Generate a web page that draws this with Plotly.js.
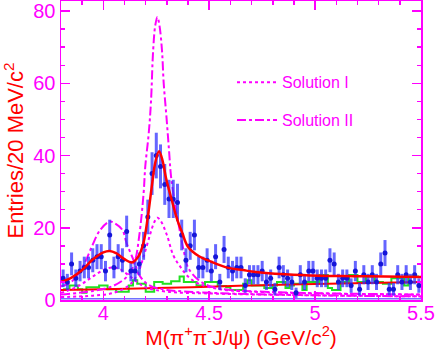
<!DOCTYPE html>
<html>
<head>
<meta charset="utf-8">
<script src="https://cdn.plot.ly/plotly-3.0.1.min.js"></script>
<style>
  body { margin: 0; background: #fff; }
  #plot { width: 436px; height: 349px; }
</style>
</head>
<body>
<div id="plot"></div>
<script>
// events per 20 MeV bin, first bin centred at 3.81 GeV
var counts = [6, 5, 10, 6, 8, 9, 9, 11, 12, 12, 8, 18, 9, 12, 11, 19, 8, 8, 10, 15, 23,
  35, 40, 37, 32, 28, 28, 27, 18,
  11, 15, 18, 9, 9, 11, 8, 12, 5, 14, 9, 8, 9, 9,
  4, 7, 7, 7, 8, 5, 6, 3, 9, 7, 6, 5, 2, 7, 5, 8, 8, 6, 6, 6, 11, 10, 5, 6, 6, 4, 8, 3,
  7, 5, 7, 5, 10, 13, 3, 3, 7, 5, 7, 5, 7, 4];

// sideband background histogram (same binning)
var sideband = [3, 3, 4, 4, 3, 2, 3.5, 3.5, 3.5, 4, 4, 3, 3, 2.3, 2.3, 2.3, 4, 5.5, 4.5, 4.5,
  2.3, 2.3, 5, 5, 4.5, 4.5, 5.2, 5.2, 6.5, 5, 5, 5, 4, 4, 5, 5, 5,
  3.9, 3.9, 3.5, 2.8, 2.8, 2.8, 4.5, 5.5, 4, 4, 4, 3.3, 3.3, 4, 5, 5, 3.3, 4, 4.5, 4.5,
  2.8, 5, 5, 5, 6.9, 6.9, 3.3, 2.8, 2.8, 5, 5, 6.9, 6.9, 5, 5, 6.5, 6.5, 5, 5, 4.5, 4.5,
  6, 6, 6, 4, 6.5, 6.5, 6.5];

// total fit
var fitX = [3.80, 3.85, 3.90, 3.95, 4.00, 4.03, 4.06, 4.10, 4.135, 4.165, 4.19, 4.21, 4.23,
  4.245, 4.263, 4.28, 4.295, 4.31, 4.323, 4.34, 4.355, 4.37, 4.40, 4.45, 4.51, 4.59, 4.66,
  4.70, 4.86, 5.02, 5.18, 5.33, 5.50];
var fitY = [5.0, 6.2, 8.3, 11.2, 13.2, 13.6, 13.0, 11.3, 10.4, 12.0, 16.0, 23.0, 32.0,
  38.0, 41.2, 38.5, 34.0, 30.5, 27.7, 24.0, 21.2, 19.0, 14.7, 12.2, 10.6, 8.9, 8.3,
  7.9, 7.1, 6.7, 6.6, 6.5, 6.4];

// fitted background
var bkgX = [3.80, 4.00, 4.25, 4.50, 4.75, 5.00, 5.25, 5.50];
var bkgY = [2.8, 3.0, 3.3, 3.7, 4.1, 4.4, 4.7, 5.0];

// Solution I components
var solIaX = [3.80, 3.85, 3.90, 3.95, 4.00, 4.04, 4.08, 4.12, 4.16, 4.20, 4.30, 4.50, 5.00, 5.50];
var solIaY = [2.0, 3.0, 4.5, 6.5, 8.3, 9.0, 8.5, 6.8, 5.0, 3.5, 2.3, 1.8, 1.3, 1.0];
var solIbX = [3.80, 3.95, 4.05, 4.12, 4.16, 4.19, 4.22, 4.24, 4.255, 4.27, 4.30, 4.33, 4.36,
  4.40, 4.45, 4.55, 4.70, 5.00, 5.50];
var solIbY = [0.8, 1.2, 2.0, 4.0, 7.0, 12.0, 18.0, 21.5, 22.8, 22.0, 18.0, 12.4, 9.5,
  6.5, 4.5, 3.0, 2.3, 1.8, 1.5];

// Solution II components
var solIIaX = [3.80, 3.84, 3.87, 3.91, 3.945, 3.985, 4.03, 4.06, 4.09, 4.11, 4.143, 4.175,
  4.22, 4.30, 4.40, 4.60, 5.00, 5.50];
var solIIaY = [3.8, 4.6, 6.4, 10.0, 14.7, 19.4, 21.7, 21.0, 19.4, 15.7, 11.0, 6.4,
  4.0, 2.8, 2.3, 1.8, 1.3, 1.0];
var solIIbX = [3.80, 3.95, 4.05, 4.12, 4.15, 4.17, 4.19, 4.198, 4.214, 4.225, 4.235, 4.245,
  4.255, 4.265, 4.277, 4.285, 4.298, 4.31, 4.32, 4.34, 4.355, 4.38, 4.40, 4.45, 4.51,
  4.60, 4.80, 5.10, 5.50];
var solIIbY = [1.5, 2.5, 4.0, 7.0, 11.0, 18.0, 29.5, 37.0, 46.0, 55.0, 69.0, 76.0,
  78.4, 76.0, 69.0, 60.0, 50.7, 41.5, 34.0, 26.0, 21.0, 13.5, 9.0, 5.5, 3.7,
  2.8, 2.2, 1.8, 1.5];

// interference term near zero
var intfX = [3.80, 5.50];
var intfY = [0.35, 0.35];

var magenta = '#ff00ff';

var traces = [
  {x: intfX, y: intfY, mode: 'lines', line: {color: '#7070ff', width: 1.5}, showlegend: false},
  {x0: 3.81, dx: 0.02, y: sideband, mode: 'lines', line: {color: '#22e022', width: 2, shape: 'hvh'},
    showlegend: false},
  {x: bkgX, y: bkgY, mode: 'lines', line: {color: '#ff0000', width: 2, shape: 'spline'}, showlegend: false},
  {x: solIaX, y: solIaY, mode: 'lines', legendgroup: 'I', showlegend: false,
    line: {color: magenta, width: 2, dash: 'dot', shape: 'spline'}},
  {x: solIIaX, y: solIIaY, mode: 'lines', legendgroup: 'II', showlegend: false,
    line: {color: magenta, width: 2, dash: 'dashdot', shape: 'spline'}},
  {x: solIbX, y: solIbY, mode: 'lines', name: 'Solution I', legendgroup: 'I',
    line: {color: magenta, width: 2, dash: 'dot', shape: 'spline'}},
  {x: solIIbX, y: solIIbY, mode: 'lines', name: 'Solution II', legendgroup: 'II',
    line: {color: magenta, width: 2, dash: 'dashdot', shape: 'spline'}},
  {x0: 3.81, dx: 0.02, y: counts, mode: 'markers', showlegend: false,
    marker: {color: '#1515d8', size: 5},
    error_y: {type: 'sqrt', color: 'rgba(50,50,255,0.75)', thickness: 3, width: 0}},
  {x: fitX, y: fitY, mode: 'lines', line: {color: '#ff0000', width: 2.5, shape: 'spline'}, showlegend: false}
];

var layout = {
  width: 436,
  height: 349,
  margin: {l: 61, r: 15, t: 1, b: 49},
  paper_bgcolor: '#ffffff',
  plot_bgcolor: '#ffffff',
  font: {family: 'Liberation Sans, Arial, sans-serif', color: magenta},
  showlegend: true,
  legend: {
    x: 0.475, y: 0.785, xanchor: 'left', yanchor: 'top',
    bgcolor: 'rgba(0,0,0,0)',
    font: {size: 16, color: magenta},
    traceorder: 'grouped',
    tracegroupgap: 14,
    itemwidth: 40
  },
  xaxis: {
    range: [3.8, 5.5],
    dtick: 0.5, tick0: 4,
    showgrid: false, zeroline: false,
    showline: true, linecolor: magenta, linewidth: 1.5, mirror: 'allticks',
    ticks: 'inside', ticklen: 9, tickcolor: magenta, tickwidth: 1.5,
    minor: {dtick: 0.1, ticks: 'inside', ticklen: 4, tickcolor: magenta, tickwidth: 1.5},
    tickfont: {size: 20, color: magenta},
    ticklabelstandoff: -6,
    title: {text: 'M(π<sup>+</sup>π<sup>-</sup>J/ψ) (GeV/c<sup>2</sup>)', font: {size: 21, color: '#ff0000'}, standoff: 0},
    automargin: false
  },
  yaxis: {
    range: [0, 82.8],
    dtick: 20,
    showgrid: false, zeroline: false,
    showline: true, linecolor: magenta, linewidth: 1.5, mirror: 'allticks',
    ticks: 'inside', ticklen: 9, tickcolor: magenta, tickwidth: 1.5,
    minor: {dtick: 5, ticks: 'inside', ticklen: 4, tickcolor: magenta, tickwidth: 1.5},
    tickfont: {size: 20, color: magenta},
    title: {text: 'Entries/20 MeV/c<sup>2</sup>', font: {size: 22, color: '#ff0000'}, standoff: 4},
    automargin: false
  }
};

Plotly.newPlot('plot', traces, layout, {displayModeBar: false, staticPlot: true});
</script>
</body>
</html>
